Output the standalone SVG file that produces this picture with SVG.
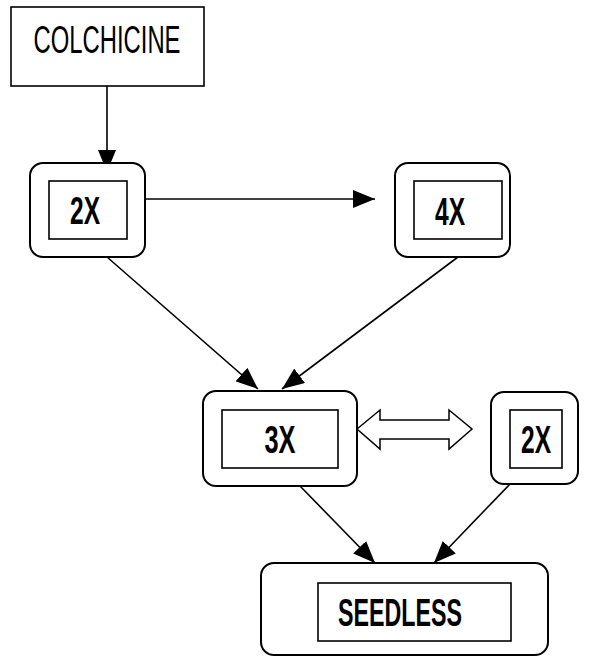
<svg xmlns="http://www.w3.org/2000/svg" width="599" height="657" viewBox="0 0 599 657">
<style>
.outer{fill:#fff;stroke:#000;stroke-width:2}
.inner{fill:#fff;stroke:#000;stroke-width:1.6}
.lbl{font-family:"Liberation Sans Narrow","Liberation Sans",Arial,sans-serif;font-size:38px;font-weight:bold;fill:#000;text-anchor:middle}
.reg{font-weight:normal}
.conn{stroke:#000;stroke-width:1.6;fill:none}
</style>
<defs>
<marker id="ah" viewBox="0 0 22 18" refX="22" refY="9" markerWidth="22" markerHeight="18" markerUnits="userSpaceOnUse" orient="auto">
<path d="M0,0 L22,9 L0,18 z" fill="#000"/>
</marker>
</defs>
<g id="connectors">
<line class="conn" x1="107" y1="86" x2="107" y2="172" marker-end="url(#ah)"/>
<line class="conn" x1="145" y1="199" x2="375" y2="199" marker-end="url(#ah)"/>
<line class="conn" x1="107" y1="257" x2="258" y2="389" marker-end="url(#ah)"/>
<line class="conn" x1="458" y1="257" x2="282" y2="389" marker-end="url(#ah)"/>
<line class="conn" x1="300" y1="486" x2="375" y2="563" marker-end="url(#ah)"/>
<line class="conn" x1="510" y1="484" x2="434" y2="563" marker-end="url(#ah)"/>
<polygon points="357,429 380,410 380,420 449,420 449,410 472,429 449,449 449,439 380,439 380,449" fill="#fff" stroke="#000" stroke-width="1.5"/>
</g>
<g id="colchicine">
<rect x="11" y="7" width="193" height="79" fill="#fff" stroke="#000" stroke-width="1.6"/>
<text class="lbl reg" x="107" y="53" textLength="147" lengthAdjust="spacingAndGlyphs">COLCHICINE</text>
</g>
<g id="node2x">
<rect class="outer" x="30" y="163" width="115" height="94" rx="13"/>
<rect class="inner" x="49" y="181" width="78" height="58"/>
<text class="lbl" x="85" y="224" textLength="30" lengthAdjust="spacingAndGlyphs">2X</text>
</g>
<g id="node4x">
<rect class="outer" x="395" y="163" width="115" height="94" rx="13"/>
<rect class="inner" x="414" y="181" width="88" height="58"/>
<text class="lbl" x="450" y="225" textLength="30" lengthAdjust="spacingAndGlyphs">4X</text>
</g>
<g id="node3x">
<rect class="outer" x="203" y="391" width="154" height="95" rx="13"/>
<rect class="inner" x="222" y="410" width="116" height="58"/>
<text class="lbl" x="280" y="453" textLength="31" lengthAdjust="spacingAndGlyphs">3X</text>
</g>
<g id="node2xb">
<rect class="outer" x="491" y="392" width="87" height="92" rx="13"/>
<rect class="inner" x="510" y="410" width="52" height="58"/>
<text class="lbl" x="536" y="453" textLength="30" lengthAdjust="spacingAndGlyphs">2X</text>
</g>
<g id="seedless">
<rect class="outer" x="261" y="563" width="287" height="92" rx="13"/>
<rect class="inner" x="318" y="583" width="193" height="58"/>
<text class="lbl" x="400" y="626" textLength="124" lengthAdjust="spacingAndGlyphs">SEEDLESS</text>
</g>
</svg>
